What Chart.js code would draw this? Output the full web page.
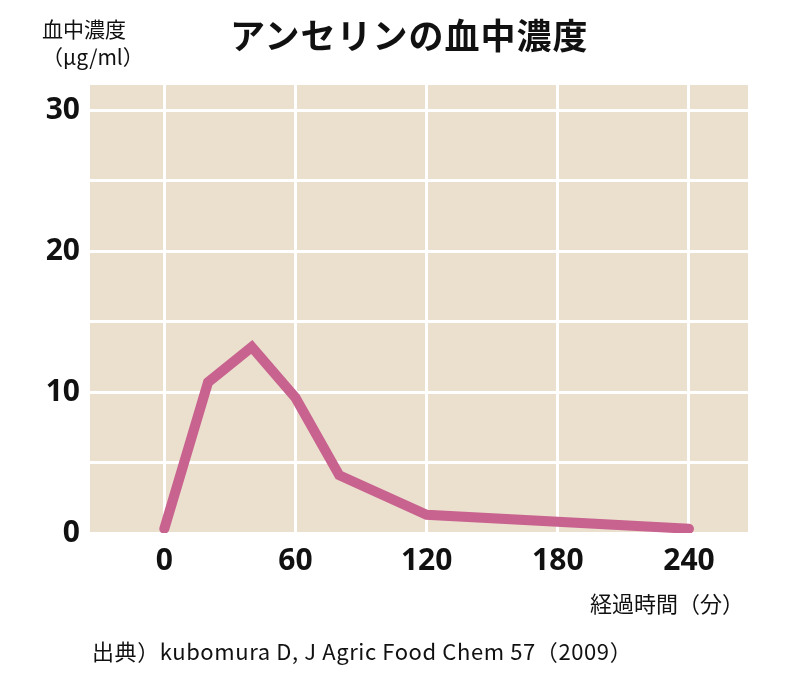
<!DOCTYPE html>
<html><head><meta charset="utf-8">
<script src="https://cdn.jsdelivr.net/npm/chart.js@4"></script>
<style>
body{margin:0;background:#fff;font-family:"Noto Sans CJK JP",sans-serif;}
#wrap{position:relative;width:800px;height:687px;}
.t{position:absolute;color:#111;white-space:nowrap;}
</style></head><body>
<div id="wrap">
<canvas id="c" width="800" height="687"></canvas>
<div class="t" style="left:230px;top:8px;font-size:35px;font-weight:bold;letter-spacing:1px;">アンセリンの血中濃度</div>
<div class="t" style="left:42px;top:14px;font-size:21px;line-height:28px;">血中濃度<br>（μg/ml）</div>
<div class="t" style="left:590px;top:586px;font-size:22px;">経過時間（分）</div>
<div class="t" style="left:92px;top:634px;font-size:22px;letter-spacing:0.6px;">出典）kubomura D, J Agric Food Chem 57（2009）</div>
</div>
<script>
// data
const minutes = [0, 20, 40, 60, 80, 120, 240];
const anserine = [0.3, 10.7, 13.2, 9.6, 4.1, 1.3, 0.3];
const xTicks = [0, 60, 120, 180, 240];
const yTicks = [0, 5, 10, 15, 20, 25, 30];
const yLabels = [0, 10, 20, 30];

const tickText = {
  id: 'tickText',
  afterDraw(chart) {
    const c = chart.ctx, x = chart.scales.x, y = chart.scales.y;
    c.save();
    c.fillStyle = '#111';
    c.font = 'bold 30px "Noto Sans", sans-serif';
    c.textAlign = 'right'; c.textBaseline = 'middle';
    yLabels.forEach(v => c.fillText(v, 80, y.getPixelForValue(v)));
    c.textAlign = 'center'; c.textBaseline = 'top';
    xTicks.forEach(v => c.fillText(v, x.getPixelForValue(v), 546));
    c.restore();
  }
};
const plotBg = {
  id: 'plotBg',
  beforeDraw(chart) {
    const a = chart.chartArea, c = chart.ctx;
    c.save(); c.fillStyle = '#ebdfcd';
    c.fillRect(a.left, a.top, a.right - a.left, a.bottom - a.top);
    c.restore();
  }
};

new Chart(document.getElementById('c'), {
  type: 'line',
  data: { datasets: [{
    data: minutes.map((m, i) => ({x: m, y: anserine[i]})),
    borderColor: '#c8628f', borderWidth: 10, pointRadius: 0,
    tension: 0, borderJoinStyle: 'miter', borderCapStyle: 'round'
  }]},
  options: {
    responsive: false, animation: false,
    layout: {padding: {left: 90, top: 85, right: 52, bottom: 154}},
    plugins: {legend: {display: false}, tooltip: {enabled: false}},
    scales: {
      x: {type: 'linear', min: -34, max: 267,
        afterBuildTicks: s => { s.ticks = xTicks.map(v => ({value: v})); },
        ticks: {display: false}, border: {display: false},
        grid: {color: '#fff', lineWidth: 3, drawTicks: false}},
      y: {min: 0, max: 31.8,
        afterBuildTicks: s => { s.ticks = yTicks.map(v => ({value: v})); },
        ticks: {display: false}, border: {display: false},
        grid: {color: '#fff', lineWidth: 3, drawTicks: false}}
    }
  },
  plugins: [plotBg, tickText]
});
</script>
</body></html>
